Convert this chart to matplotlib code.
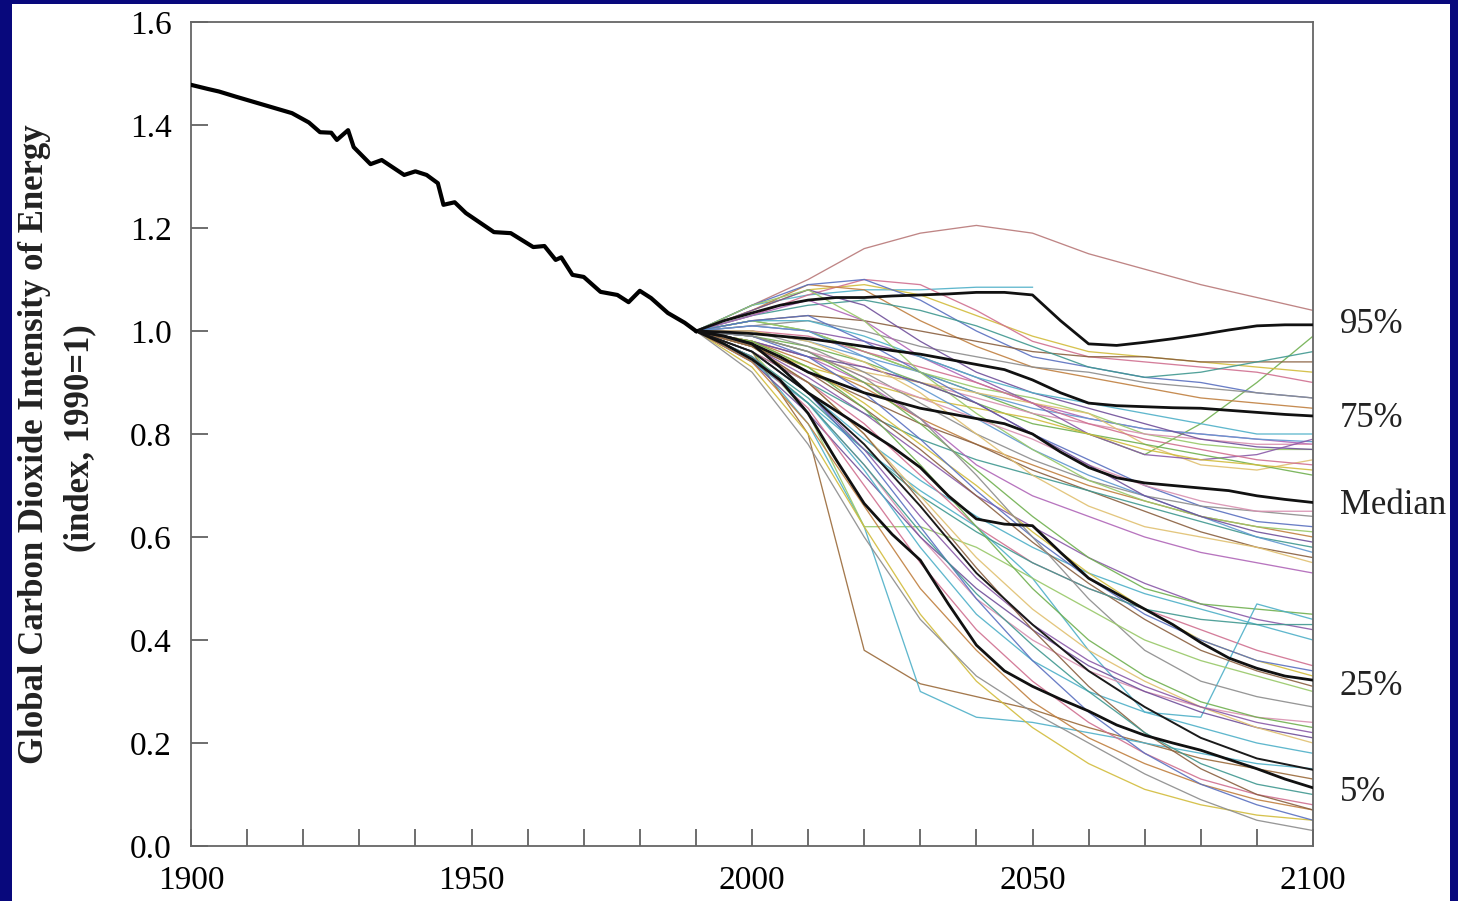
import numpy as np
import matplotlib
matplotlib.use("Agg")
import matplotlib.pyplot as plt
from matplotlib.patches import Rectangle

# ---------------- data ----------------
hist_years = [1900, 1903, 1905, 1908, 1913, 1918, 1921, 1923, 1925, 1926, 1928, 1929,
              1932, 1934, 1938, 1940, 1942, 1944, 1945, 1947, 1949, 1954, 1957, 1961,
              1963, 1965, 1966, 1968, 1970, 1973, 1976, 1978, 1980, 1982, 1985, 1988, 1990]
hist_values = [1.478, 1.470, 1.465, 1.455, 1.439, 1.423, 1.405, 1.386, 1.385, 1.371, 1.390, 1.357,
               1.324, 1.332, 1.303, 1.310, 1.303, 1.287, 1.245, 1.250, 1.229, 1.192, 1.190, 1.163,
               1.165, 1.138, 1.143, 1.109, 1.105, 1.076, 1.070, 1.056, 1.078, 1.064, 1.035, 1.016, 1.0]

scen_years = [1990, 2000, 2010, 2020, 2030, 2040, 2050, 2060, 2070, 2080, 2090, 2100]
nan = float("nan")

scen_high = [
    [1.0, 1.05, 1.10, 1.16, 1.19, 1.205, 1.19, 1.15, 1.12, 1.09, 1.065, 1.04],
    [1.0, 1.05, 1.07, 1.08, 1.08, 1.085, 1.085, nan, nan, nan, nan, nan],
    [1.0, 1.02, 1.00, 0.96, 0.92, 0.88, 0.84, 0.80, 0.76, 0.82, 0.90, 0.99],
    [1.0, 1.04, 1.08, 1.09, 1.07, 1.03, 0.99, 0.96, 0.95, 0.94, 0.93, 0.92],
    [1.0, 1.03, 1.07, 1.10, 1.09, 1.04, 0.98, 0.95, 0.94, 0.93, 0.92, 0.90],
    [1.0, 1.04, 1.09, 1.08, 1.02, 0.97, 0.93, 0.91, 0.89, 0.87, 0.86, 0.85],
    [1.0, 1.05, 1.09, 1.10, 1.06, 1.00, 0.95, 0.93, 0.91, 0.90, 0.88, 0.87],
    [1.0, 1.02, 1.03, 1.02, 1.00, 0.98, 0.96, 0.95, 0.95, 0.94, 0.94, 0.94],
    [1.0, 1.03, 1.05, 1.06, 1.04, 1.01, 0.97, 0.93, 0.91, 0.92, 0.94, 0.96],
    [1.0, 1.01, 1.02, 1.00, 0.97, 0.95, 0.93, 0.92, 0.90, 0.89, 0.88, 0.87],
]
scen_upper_mid = [
    [1.0, 1.03, 1.06, 1.02, 0.95, 0.90, 0.86, 0.83, 0.81, 0.80, 0.79, 0.78],
    [1.0, 1.00, 0.98, 0.95, 0.92, 0.88, 0.85, 0.83, 0.81, 0.80, 0.79, 0.785],
    [1.0, 1.02, 1.00, 0.96, 0.92, 0.89, 0.87, 0.84, 0.80, 0.78, 0.77, 0.77],
    [1.0, 0.99, 0.96, 0.93, 0.90, 0.87, 0.84, 0.82, 0.80, 0.79, 0.78, 0.78],
    [1.0, 1.04, 1.08, 1.05, 0.98, 0.92, 0.88, 0.85, 0.82, 0.79, 0.775, 0.77],
    [1.0, 0.98, 0.95, 0.92, 0.90, 0.88, 0.86, 0.84, 0.78, 0.74, 0.73, 0.75],
    [1.0, 1.01, 1.00, 0.98, 0.95, 0.91, 0.86, 0.80, 0.76, 0.75, 0.76, 0.79],
    [1.0, 1.02, 1.02, 0.99, 0.95, 0.91, 0.88, 0.86, 0.84, 0.82, 0.80, 0.80],
    [1.0, 0.99, 0.97, 0.94, 0.90, 0.86, 0.82, 0.80, 0.78, 0.76, 0.74, 0.72],
    [1.0, 0.97, 0.93, 0.90, 0.87, 0.85, 0.83, 0.80, 0.77, 0.75, 0.74, 0.73],
    [1.0, 1.00, 0.99, 0.96, 0.93, 0.90, 0.86, 0.82, 0.79, 0.77, 0.75, 0.74],
]
scen_mid = [
    [1.0, 0.98, 0.94, 0.89, 0.83, 0.78, 0.74, 0.70, 0.67, 0.64, 0.62, 0.60],
    [1.0, 1.02, 1.03, 0.98, 0.92, 0.86, 0.80, 0.75, 0.70, 0.66, 0.63, 0.62],
    [1.0, 0.97, 0.92, 0.87, 0.82, 0.78, 0.73, 0.69, 0.65, 0.61, 0.58, 0.56],
    [1.0, 0.96, 0.90, 0.84, 0.79, 0.75, 0.72, 0.69, 0.66, 0.63, 0.60, 0.58],
    [1.0, 1.00, 0.97, 0.92, 0.86, 0.80, 0.75, 0.71, 0.68, 0.66, 0.65, 0.64],
    [1.0, 0.98, 0.95, 0.90, 0.83, 0.74, 0.68, 0.64, 0.60, 0.57, 0.55, 0.53],
    [1.0, 1.01, 1.00, 0.95, 0.89, 0.83, 0.77, 0.72, 0.68, 0.64, 0.60, 0.57],
    [1.0, 1.05, 1.08, 1.02, 0.92, 0.84, 0.77, 0.71, 0.67, 0.64, 0.62, 0.61],
    [1.0, 0.99, 0.96, 0.91, 0.87, 0.83, 0.79, 0.74, 0.70, 0.67, 0.65, 0.65],
    [1.0, 0.98, 0.95, 0.93, 0.90, 0.86, 0.80, 0.74, 0.68, 0.64, 0.61, 0.59],
    [1.0, 1.00, 0.98, 0.94, 0.88, 0.80, 0.72, 0.66, 0.62, 0.60, 0.58, 0.55],
]
scen_lower_mid = [
    [1.0, 0.97, 0.91, 0.84, 0.76, 0.68, 0.62, 0.56, 0.51, 0.47, 0.44, 0.42],
    [1.0, 0.96, 0.88, 0.79, 0.71, 0.64, 0.58, 0.53, 0.49, 0.46, 0.43, 0.40],
    [1.0, 0.99, 0.96, 0.90, 0.82, 0.73, 0.64, 0.56, 0.50, 0.47, 0.46, 0.45],
    [1.0, 0.98, 0.93, 0.86, 0.78, 0.70, 0.61, 0.53, 0.46, 0.40, 0.36, 0.33],
    [1.0, 0.96, 0.90, 0.82, 0.72, 0.62, 0.55, 0.50, 0.46, 0.42, 0.38, 0.35],
    [1.0, 0.94, 0.86, 0.77, 0.69, 0.62, 0.52, 0.38, 0.26, 0.25, 0.47, 0.44],
    [1.0, 0.99, 0.95, 0.88, 0.79, 0.69, 0.60, 0.52, 0.45, 0.40, 0.36, 0.34],
    [1.0, 0.97, 0.92, 0.85, 0.77, 0.68, 0.59, 0.51, 0.44, 0.38, 0.34, 0.31],
    [1.0, 0.95, 0.87, 0.77, 0.68, 0.61, 0.55, 0.50, 0.46, 0.44, 0.43, 0.43],
    [1.0, 0.99, 0.96, 0.91, 0.83, 0.72, 0.60, 0.48, 0.38, 0.32, 0.29, 0.27],
]
scen_low = [
    [1.0, 0.96, 0.80, 0.38, 0.315, 0.29, 0.265, 0.23, 0.20, 0.17, 0.15, 0.13],
    [1.0, 0.95, 0.82, 0.62, 0.30, 0.25, 0.24, 0.22, 0.20, 0.18, 0.16, 0.15],
    [1.0, 0.96, 0.84, 0.62, 0.62, 0.58, 0.52, 0.46, 0.40, 0.36, 0.33, 0.30],
    [1.0, 0.95, 0.86, 0.74, 0.60, 0.48, 0.40, 0.34, 0.30, 0.27, 0.25, 0.24],
    [1.0, 0.94, 0.84, 0.72, 0.60, 0.50, 0.42, 0.35, 0.30, 0.26, 0.23, 0.21],
    [1.0, 0.97, 0.90, 0.80, 0.68, 0.56, 0.46, 0.38, 0.32, 0.27, 0.23, 0.20],
    [1.0, 0.96, 0.88, 0.77, 0.64, 0.52, 0.43, 0.36, 0.31, 0.27, 0.24, 0.22],
    [1.0, 0.95, 0.86, 0.73, 0.58, 0.45, 0.36, 0.30, 0.26, 0.23, 0.20, 0.18],
    [1.0, 0.98, 0.93, 0.85, 0.74, 0.62, 0.50, 0.40, 0.33, 0.28, 0.25, 0.23],
]
scen_lowest = [
    [1.0, 0.93, 0.80, 0.62, 0.45, 0.32, 0.23, 0.16, 0.11, 0.08, 0.06, 0.05],
    [1.0, 0.95, 0.85, 0.70, 0.55, 0.42, 0.32, 0.24, 0.18, 0.13, 0.10, 0.08],
    [1.0, 0.94, 0.82, 0.66, 0.50, 0.38, 0.28, 0.21, 0.16, 0.12, 0.09, 0.07],
    [1.0, 0.96, 0.88, 0.76, 0.62, 0.48, 0.36, 0.26, 0.18, 0.12, 0.08, 0.05],
    [1.0, 0.97, 0.90, 0.80, 0.67, 0.54, 0.42, 0.31, 0.22, 0.15, 0.10, 0.07],
    [1.0, 0.95, 0.86, 0.74, 0.61, 0.49, 0.39, 0.30, 0.22, 0.16, 0.12, 0.10],
    [1.0, 0.92, 0.78, 0.60, 0.44, 0.33, 0.26, 0.20, 0.14, 0.09, 0.05, 0.03],
]
scen_black = [
    [1.0, 0.96, 0.88, 0.78, 0.66, 0.53, 0.43, 0.34, 0.27, 0.21, 0.17, 0.148],
]

pct_years = list(range(1990, 2101, 5))
pct_95 = [1.0, 1.02, 1.035, 1.05, 1.06, 1.065, 1.065, 1.068, 1.07, 1.072, 1.075, 1.075,
          1.07, 1.02, 0.975, 0.972, 0.978, 0.985, 0.993, 1.002, 1.01, 1.012, 1.012]
pct_75 = [1.0, 0.998, 0.995, 0.99, 0.985, 0.978, 0.97, 0.962, 0.955, 0.945, 0.935, 0.925,
          0.905, 0.88, 0.86, 0.855, 0.853, 0.851, 0.85, 0.846, 0.842, 0.838, 0.835]
pct_50 = [1.0, 0.99, 0.975, 0.95, 0.92, 0.90, 0.88, 0.865, 0.85, 0.84, 0.83, 0.82,
          0.80, 0.765, 0.735, 0.715, 0.705, 0.70, 0.695, 0.69, 0.68, 0.673, 0.667]
pct_25 = [1.0, 0.99, 0.975, 0.93, 0.88, 0.845, 0.81, 0.775, 0.735, 0.68, 0.635, 0.625,
          0.622, 0.57, 0.52, 0.49, 0.46, 0.43, 0.395, 0.365, 0.345, 0.33, 0.322]
pct_05 = [1.0, 0.975, 0.945, 0.905, 0.84, 0.75, 0.665, 0.605, 0.555, 0.47, 0.39, 0.34,
          0.31, 0.285, 0.262, 0.235, 0.215, 0.20, 0.186, 0.168, 0.15, 0.13, 0.113]

pct_labels = ["95%", "75%", "Median", "25%", "5%"]
pct_label_y = [1.012, 0.831, 0.662, 0.309, 0.103]

x_ticks = [1900, 1950, 2000, 2050, 2100]
y_ticks = [0.0, 0.2, 0.4, 0.6, 0.8, 1.0, 1.2, 1.4, 1.6]

# ---------------- figure ----------------
W, H = 1458, 901
fig = plt.figure(figsize=(W / 100, H / 100), dpi=100)
fig.patch.set_facecolor("#08087c")
fig.patches.append(Rectangle((12 / W, 0), (1450 - 12) / W, (H - 4) / H,
                             transform=fig.transFigure, facecolor="white",
                             edgecolor="none", zorder=-5))

ax = fig.add_axes([191 / W, 1 - 846 / H, (1313 - 191) / W, (846 - 22) / H])
ax.set_facecolor("white")
ax.set_zorder(1)

palette = ["#8a5aa8", "#4fb0c8", "#70b050", "#d2bc3c", "#d07090", "#c08040",
           "#5a70c0", "#8a6040", "#409890", "#8c8c8c", "#b066b8", "#6098d0",
           "#98c868", "#d890b0", "#70509a", "#e0c070"]
special_colors = {0: "#b87878", 37: "#4fb0c8", 42: "#9a6a3a", 43: "#4fb0c8"}

ci = 0
for group in [scen_high, scen_upper_mid, scen_mid, scen_lower_mid, scen_low, scen_lowest]:
    for vals in group:
        col = special_colors.get(ci, palette[ci % len(palette)])
        ax.plot(scen_years, vals, color=col, lw=0.95, alpha=0.9, zorder=2)
        ci += 1
for vals in scen_black:
    ax.plot(scen_years, vals, color="#1a1a1a", lw=1.4, zorder=3)

for vals in [pct_95, pct_75, pct_50, pct_25, pct_05]:
    ax.plot(pct_years, vals, color="#111111", lw=2.0, zorder=4,
            solid_joinstyle="round")

ax.plot(hist_years, hist_values, color="black", lw=3.0, zorder=5,
        solid_joinstyle="round")

ax.set_xlim(1900, 2100)
ax.set_ylim(0, 1.6)

serif = ["Liberation Serif", "DejaVu Serif"]
ax.set_xticks(x_ticks)
ax.set_xticks(list(range(1910, 2100, 10)), minor=True)
ax.set_yticks(y_ticks)
ax.set_xticklabels([str(t) for t in x_ticks], fontsize=24, family=serif)
ax.set_yticklabels([f"{t:.1f}" for t in y_ticks], fontsize=24, family=serif)
ax.tick_params(axis="x", which="both", direction="in", length=12, width=1.2,
               color="#555555", pad=14)
ax.tick_params(axis="y", which="both", direction="in", length=12, width=1.2,
               color="#555555", pad=14)
for sp in ax.spines.values():
    sp.set_color("#666666")
    sp.set_linewidth(1.3)

for lab, yv in zip(pct_labels, pct_label_y):
    ax.text(1.024, yv, lab, transform=ax.get_yaxis_transform(), fontsize=25,
            family=serif, va="center", ha="left", color="#222222", clip_on=False)

fig.text(35 / W, 1 - 444 / H, "Global Carbon Dioxide Intensity of Energy",
         rotation=90, ha="center", va="center", fontsize=25, fontweight="bold",
         family=serif, color="#222222")
fig.text(80 / W, 1 - 438 / H, "(index, 1990=1)", rotation=90, ha="center",
         va="center", fontsize=25, fontweight="bold", family=serif, color="#222222")

fig.savefig("out.png", dpi=100, facecolor=fig.get_facecolor())
